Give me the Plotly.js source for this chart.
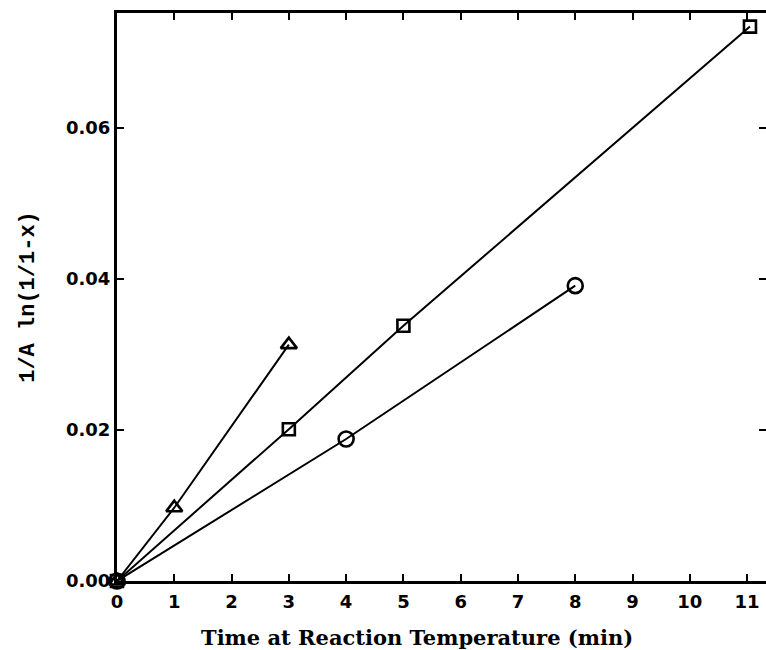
<!DOCTYPE html>
<html>
<head>
<meta charset="utf-8">
<script src="https://cdn.plot.ly/plotly-3.0.1.min.js"></script>
<style>
  html, body { margin: 0; padding: 0; background: #fff; }
  #chart { width: 766px; height: 650px; }
</style>
</head>
<body>
<div id="chart"></div>
<script>
// Reaction time (min) and 1/A ln(1/1-x) for three runs
const triTime = [0, 1, 3];
const triVal  = [0, 0.0097, 0.0313];

const sqTime = [0, 3, 5, 11.05];
const sqVal  = [0, 0.0201, 0.0338, 0.0734];

const circTime = [0, 4, 8];
const circVal  = [0, 0.0188, 0.0391];

const xTicks = [0, 1, 2, 3, 4, 5, 6, 7, 8, 9, 10, 11];
const yTicks = [0, 0.02, 0.04, 0.06];
const yTickText = ['0.00', '0.02', '0.04', '0.06'];

const ink = '#000';

function series(x, y, symbol, size) {
  return {
    x: x, y: y,
    type: 'scatter',
    mode: 'lines+markers',
    line: { color: ink, width: 2 },
    marker: { symbol: symbol, size: size, color: ink,
              line: { color: ink, width: 2.6 } },
    cliponaxis: false,
    showlegend: false
  };
}

// square run drawn last so its marker sits on top at the origin
const data = [
  series(circTime, circVal, 'circle-open', 15),
  series(triTime, triVal, 'triangle-up-open', 14),
  series(sqTime, sqVal, 'square-open', 12)
];

const tickFont = { family: 'DejaVu Sans', size: 18, color: ink, weight: 'bold' };

const layout = {
  width: 766,
  height: 650,
  margin: { l: 117, r: 0, t: 13, b: 69 },
  paper_bgcolor: '#fff',
  plot_bgcolor: '#fff',
  xaxis: {
    range: [0, 11.33],
    tickvals: xTicks,
    ticktext: xTicks.map(String),
    ticks: 'inside',
    ticklen: 7,
    tickwidth: 2,
    tickcolor: ink,
    showline: true,
    linewidth: 3,
    linecolor: ink,
    mirror: 'ticks',
    showgrid: false,
    zeroline: false,
    tickfont: tickFont,
    ticklabelstandoff: 2
  },
  yaxis: {
    range: [0, 0.0752],
    tickvals: yTicks,
    ticktext: yTickText,
    ticks: 'inside',
    ticklen: 7,
    tickwidth: 2,
    tickcolor: ink,
    showline: true,
    linewidth: 3,
    linecolor: ink,
    mirror: 'ticks',
    showgrid: false,
    zeroline: false,
    tickfont: tickFont,
    title: { text: '1/A ln(1/1-x)',
             font: { family: 'Liberation Mono', size: 22, color: ink, weight: 'bold' },
             standoff: 26 }
  },
  annotations: [{
    text: 'Time at Reaction Temperature (min)',
    xref: 'paper', yref: 'paper',
    x: 0.462, y: -0.099,
    xanchor: 'center', yanchor: 'middle',
    showarrow: false,
    font: { family: 'DejaVu Serif', size: 21, color: ink, weight: 'bold' }
  }]
};

Plotly.newPlot('chart', data, layout, { displayModeBar: false, staticPlot: true });
</script>
</body>
</html>
